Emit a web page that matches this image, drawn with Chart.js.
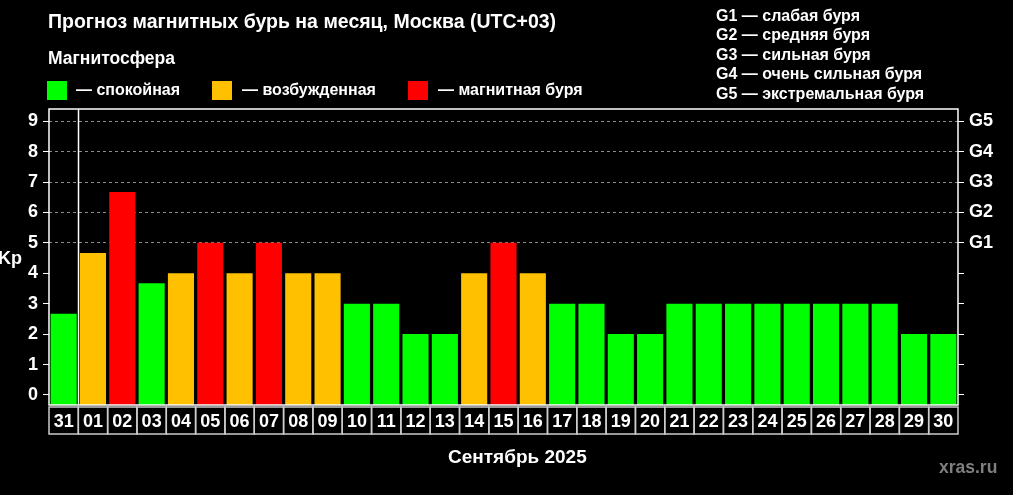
<!DOCTYPE html>
<html>
<head>
<meta charset="utf-8">
<script src="https://cdn.jsdelivr.net/npm/chart.js@4.4.1/dist/chart.umd.min.js"></script>
<style>
  body { margin: 0; background: #000; }
  #wrap { position: relative; width: 1013px; height: 495px; background: #000; overflow: hidden;
          font-family: "Liberation Sans", Arial, sans-serif; font-weight: bold; color: #fff; }
  #c { position: absolute; left: 0; top: 0; }
  .t { position: absolute; white-space: nowrap; line-height: 1; }
  .sq { position: absolute; width: 20px; height: 19px; }
</style>
</head>
<body>
<div id="wrap">
  <canvas id="c" width="1013" height="495"></canvas>
  <div class="t" style="left:48px;top:12px;font-size:19.5px">Прогноз магнитных бурь на месяц, Москва (UTC+03)</div>
  <div class="t" style="left:48px;top:50px;font-size:17.5px">Магнитосфера</div>
  <div class="sq" style="left:47px;top:81px;background:#00ff00"></div>
  <div class="t" style="left:76px;top:82px;font-size:16px">— спокойная</div>
  <div class="sq" style="left:212px;top:81px;background:#ffc000"></div>
  <div class="t" style="left:242px;top:82px;font-size:16px">— возбужденная</div>
  <div class="sq" style="left:408px;top:81px;background:#ff0000"></div>
  <div class="t" style="left:438px;top:82px;font-size:16px">— магнитная буря</div>
  <div class="t" style="left:716px;top:6px;font-size:16px;line-height:19.4px">G1 — слабая буря<br>G2 — средняя буря<br>G3 — сильная буря<br>G4 — очень сильная буря<br>G5 — экстремальная буря</div>
  <div class="t" style="left:-2px;top:249px;font-size:18px">Kp</div>
  <div class="t" style="left:448px;top:447px;font-size:19px">Сентябрь 2025</div>
  <div class="t" style="left:939px;top:459px;font-size:17.5px;color:#7f7f7f">xras.ru</div>
</div>
<script>
var days = ['31','01','02','03','04','05','06','07','08','09','10','11','12','13','14','15',
            '16','17','18','19','20','21','22','23','24','25','26','27','28','29','30'];
var kp = [2.67,4.67,6.67,3.67,4,5,4,5,4,4,3,3,2,2,4,5,4,3,3,2,2,3,3,3,3,3,3,3,3,2,2];
var kpTicks = [0,1,2,3,4,5,6,7,8,9];
var gLevels = ['G1','G2','G3','G4','G5']; // Kp 5..9
var yMin = -0.33, yMax = 9.4;

var GREEN = '#00ff00', ORANGE = '#ffc000', RED = '#ff0000';
function barColor(v) {
    if (v >= 5) return RED;
    if (v >= 4) return ORANGE;
    return GREEN;
}

// frame, month separator and boxed date cells
var framePlugin = {
    id: 'frame',
    afterDraw: function(chart) {
        var ctx = chart.ctx, a = chart.chartArea, x = chart.scales.x;
        ctx.save();
        ctx.strokeStyle = '#fff';
        ctx.lineWidth = 1.5;
        ctx.strokeRect(a.left, a.top, a.right - a.left, a.bottom - a.top);
        var sep = Math.round(x.getPixelForValue(0.5)) + 0.5;
        ctx.beginPath();
        ctx.moveTo(sep, a.top);
        ctx.lineTo(sep, a.bottom);
        ctx.stroke();
        ctx.strokeStyle = '#ccc';
        for (var i = 0; i < days.length; i++) {
            var x0 = x.getPixelForValue(i - 0.5), x1 = x.getPixelForValue(i + 0.5);
            ctx.strokeRect(x0, a.bottom + 2, x1 - x0, 27);
        }
        ctx.restore();
    }
};

var ctx = document.getElementById('c').getContext('2d');
new Chart(ctx, {
    type: 'bar',
    data: {
        labels: days,
        datasets: [{
            data: kp,
            base: yMin,
            backgroundColor: kp.map(barColor),
            borderWidth: 0,
            barPercentage: 0.89,
            categoryPercentage: 1.0,
            yAxisID: 'y'
        }]
    },
    options: {
        responsive: false,
        animation: false,
        layout: { padding: { top: 109, left: 0, right: 0, bottom: 0 } },
        plugins: { legend: { display: false }, title: { display: false }, tooltip: { enabled: false } },
        scales: {
            x: {
                grid: { display: false },
                border: { display: false },
                ticks: {
                    color: '#fff', autoSkip: false, maxRotation: 0, padding: -2,
                    font: { family: '"Liberation Sans Narrow", "Liberation Sans"', weight: 'bold', size: 18 }
                },
                afterFit: function(s) { s.height = 90; }
            },
            y: {
                position: 'left',
                min: yMin, max: yMax,
                afterBuildTicks: function(s) { s.ticks = kpTicks.map(function(v) { return {value: v}; }); },
                grid: {
                    color: function(c) { return c.tick && c.tick.value >= 5 ? '#8a8a8a' : 'rgba(0,0,0,0)'; },
                    tickColor: '#fff', tickLength: 6, lineWidth: 1
                },
                border: { display: false, dash: [3, 3] },
                ticks: {
                    color: '#fff', padding: 5,
                    font: { family: 'Liberation Sans', weight: 'bold', size: 18 }
                },
                afterFit: function(s) { s.width = 49; }
            },
            y2: {
                position: 'right',
                min: yMin, max: yMax,
                afterBuildTicks: function(s) { s.ticks = kpTicks.map(function(v) { return {value: v}; }); },
                grid: { drawOnChartArea: false, tickColor: '#fff', tickLength: 6 },
                border: { display: false },
                ticks: {
                    color: '#fff', padding: 5,
                    font: { family: 'Liberation Sans', weight: 'bold', size: 18 },
                    callback: function(v) { return v >= 5 ? gLevels[v - 5] : ''; }
                },
                afterFit: function(s) { s.width = 55; }
            }
        }
    },
    plugins: [framePlugin]
});
</script>
</body>
</html>
